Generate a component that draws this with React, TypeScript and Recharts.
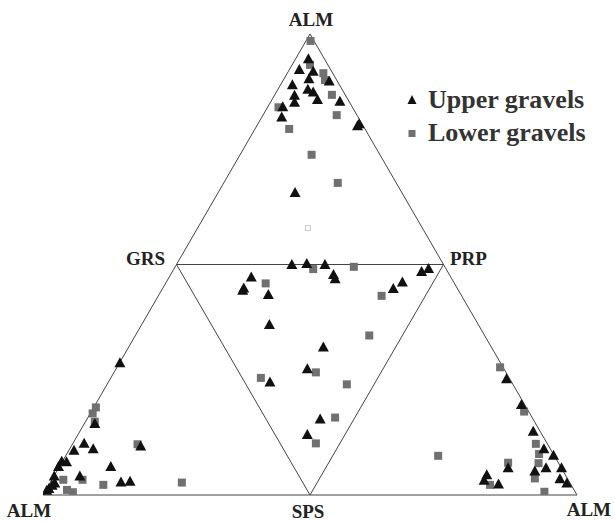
import React from "react";
import { ScatterChart, Scatter, XAxis, YAxis, ReferenceLine } from "recharts";

// Positions in the ternary plane: x = 0 (left ALM) .. 100 (right ALM), y = 0 (base) .. 100 (top ALM)
const upperGravels: [number, number][] = [
  [49.7, 94.5], [48.0, 92.2], [50.6, 91.8], [49.8, 90.2], [53.6, 89.7], [46.7, 88.9],
  [49.6, 87.9], [50.6, 87.3], [51.4, 85.7], [47.1, 86.6], [47.1, 85.1], [55.6, 85.3],
  [44.9, 84.1], [44.7, 81.9], [58.9, 80.0], [59.2, 80.4], [47.2, 65.5],
  [46.6, 49.9], [49.4, 50.1], [52.8, 49.9], [54.4, 47.7], [54.7, 46.8], [70.9, 48.4],
  [72.2, 49.0], [39.0, 47.2], [37.6, 44.8], [37.4, 44.3], [42.2, 43.4], [67.3, 46.1],
  [65.6, 44.7], [42.4, 36.9], [52.5, 32.0], [49.5, 27.3], [42.5, 24.4], [51.9, 16.4],
  [49.5, 13.0],
  [14.4, 28.6], [9.7, 15.4], [7.7, 11.1], [9.4, 9.9], [5.8, 9.6], [18.3, 10.5],
  [3.5, 7.2], [4.4, 7.1], [2.9, 6.1], [12.7, 6.1], [2.1, 4.0], [6.9, 4.0],
  [2.2, 2.5], [14.6, 2.7], [16.3, 2.9], [1.1, 1.3], [1.7, 2.0], [0.7, 0.9],
  [86.8, 25.1], [89.6, 19.5], [91.8, 13.7], [93.8, 9.9], [95.6, 8.5], [87.1, 5.8],
  [92.1, 5.1], [94.2, 5.8], [97.1, 5.8], [83.1, 4.3], [82.6, 3.1], [85.3, 2.3],
  [96.8, 3.4], [98.1, 2.5],
];

const lowerGravels: [number, number][] = [
  [50.1, 98.5], [50.0, 93.3], [52.5, 91.5], [52.8, 90.0], [54.1, 86.8], [44.1, 84.1],
  [55.0, 82.4], [46.1, 79.4], [50.3, 73.8], [55.2, 67.7],
  [50.6, 49.0], [58.2, 49.5], [41.7, 45.9], [63.4, 43.2], [61.1, 34.6], [51.1, 26.6],
  [40.8, 25.4], [56.9, 24.0], [54.7, 16.8], [51.1, 11.2],
  [9.9, 19.0], [9.3, 17.7], [9.7, 15.9], [17.7, 11.0], [7.4, 3.3], [3.8, 3.3],
  [11.3, 2.2], [26.0, 2.7], [4.5, 1.1], [5.6, 0.6],
  [85.6, 27.7], [90.1, 18.1], [92.3, 11.1], [92.9, 8.9], [74.0, 8.5], [87.1, 7.0],
  [92.8, 6.9], [92.1, 3.6], [83.7, 2.2], [93.9, 0.7],
];

const centreMark: [number, number][] = [[49.6, 57.9]];

const vertexLabels = ["ALM", "GRS", "PRP", "ALM", "SPS", "ALM"];
const seriesNames = ["Upper gravels", "Lower gravels"];

// triangle outlines (outer + inner)
const outline: [number, number][][] = [
  [[0, 0], [100, 0]],
  [[0, 0], [50, 100]],
  [[100, 0], [50, 100]],
  [[25, 50], [75, 50]],
  [[25, 50], [50, 0]],
  [[75, 50], [50, 0]],
];

const toObjs = (arr: [number, number][]) => arr.map(([x, y]) => ({ x, y }));

const Tri = (props: any) => {
  const { cx, cy } = props;
  return (
    <polygon
      points={`${cx},${cy - 6} ${cx - 5.5},${cy + 4} ${cx + 5.5},${cy + 4}`}
      fill="#111"
    />
  );
};

const Sq = (props: any) => {
  const { cx, cy } = props;
  return <rect x={cx - 4} y={cy - 4} width={8} height={8} fill="#707070" />;
};

const OpenSq = (props: any) => {
  const { cx, cy } = props;
  return <rect x={cx - 2.5} y={cy - 2.5} width={5} height={5} fill="none" stroke="#c8c8c8" strokeWidth={1} />;
};

const W = 615;
const H = 522;
const font = "'Liberation Serif', 'Times New Roman', serif";

export default function App() {
  const labelStyle = { fontFamily: font, fontWeight: 700, fontSize: 19, fill: "#222" } as const;
  const legendStyle = { fontFamily: font, fontWeight: 700, fontSize: 26, fill: "#333" } as const;
  return (
    <div style={{ position: "absolute", left: 0, top: 0, width: W, height: H, background: "#fff", overflow: "hidden" }}>
      <ScatterChart width={W} height={H} margin={{ left: 43, right: 38, top: 34, bottom: 27 }}>
        <XAxis type="number" dataKey="x" domain={[0, 100]} hide allowDataOverflow />
        <YAxis type="number" dataKey="y" domain={[0, 100]} hide allowDataOverflow />
        {outline.map((seg, i) => (
          <ReferenceLine
            key={i}
            segment={[{ x: seg[0][0], y: seg[0][1] }, { x: seg[1][0], y: seg[1][1] }]}
            stroke="#444"
            strokeWidth={1}
            ifOverflow="visible"
          />
        ))}
        <Scatter name="centre" data={toObjs(centreMark)} shape={OpenSq} isAnimationActive={false} />
        <Scatter name={seriesNames[1]} data={toObjs(lowerGravels)} shape={Sq} isAnimationActive={false} />
        <Scatter name={seriesNames[0]} data={toObjs(upperGravels)} shape={Tri} isAnimationActive={false} />
      </ScatterChart>
      <svg width={W} height={H} style={{ position: "absolute", left: 0, top: 0, pointerEvents: "none" }}>
        <text x={311} y={26} textAnchor="middle" {...labelStyle}>{vertexLabels[0]}</text>
        <text x={165} y={265} textAnchor="end" {...labelStyle}>{vertexLabels[1]}</text>
        <text x={450} y={265} textAnchor="start" {...labelStyle}>{vertexLabels[2]}</text>
        <text x={29} y={517} textAnchor="middle" {...labelStyle}>{vertexLabels[3]}</text>
        <text x={308} y={518} textAnchor="middle" {...labelStyle}>{vertexLabels[4]}</text>
        <text x={611} y={516} textAnchor="end" {...labelStyle}>{vertexLabels[5]}</text>
        <polygon points="412,95 407.5,104 416.5,104" fill="#111" />
        <text x={428} y={108} {...legendStyle}>{seriesNames[0]}</text>
        <rect x={408.5} y={130} width={7} height={7} fill="#707070" />
        <text x={428} y={141} {...legendStyle}>{seriesNames[1]}</text>
      </svg>
    </div>
  );
}
